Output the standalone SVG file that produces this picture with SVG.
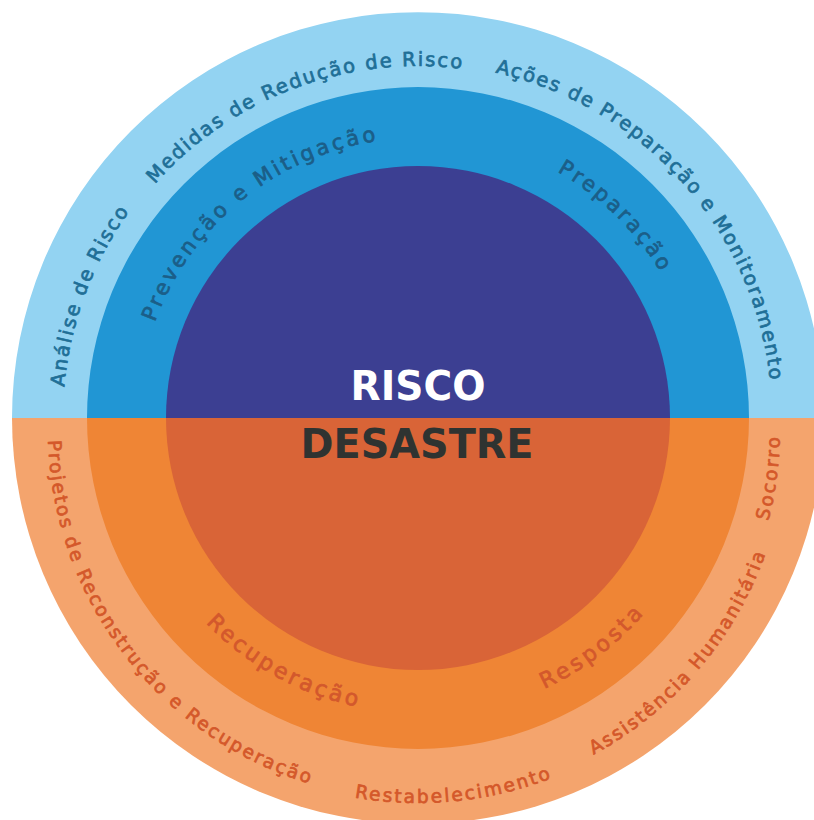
<svg xmlns="http://www.w3.org/2000/svg" xmlns:xlink="http://www.w3.org/1999/xlink" width="814" height="820" viewBox="0 0 814 820">
  <style>
    .lbl { font-family: "DejaVu Sans", "Liberation Sans", sans-serif; font-weight: 400; stroke-width: 0.7px; stroke-linejoin: round; }
    .risk-out { fill: #1F6F97; stroke: #1F6F97; font-size: 19.5px; }
    .risk-mid { fill: #1B5E88; stroke: #1B5E88; font-size: 21px; }
    .dis-out { fill: #D4582A; stroke: #D4582A; font-size: 18.5px; }
    .dis-mid { fill: #D3582C; stroke: #D3582C; font-size: 22px; }
    .title { font-family: "DejaVu Sans", "Liberation Sans", sans-serif; font-weight: 700; font-size: 41px; text-anchor: middle; }
  </style>
  <defs>
    <!-- text baselines, centre (418,418) above the split, (418,430) for the lower outer ring -->
    <path id="p-analise" d="M 64.35 387.06 A 355 355 0 0 1 129.35 211.35"/>
    <path id="p-medidas" d="M 154.77 184.30 A 352 352 0 0 1 462.12 68.78"/>
    <path id="p-acoes" d="M 495.22 72.52 A 354 354 0 0 1 770.06 381.00"/>
    <path id="p-prevencao" d="M 154.89 322.23 A 280 280 0 0 1 376.61 141.07"/>
    <path id="p-preparacao" d="M 557.35 171.69 A 283 283 0 0 1 660.58 272.24"/>
    <path id="p-recuperacao" d="M 205.80 622.92 A 295 295 0 0 0 356.67 706.55"/>
    <path id="p-resposta" d="M 544.36 688.99 A 299 299 0 0 0 643.66 614.16"/>
    <path id="p-projetos" d="M 48.14 440.33 A 370 370 0 0 0 309.82 783.83"/>
    <path id="p-restab" d="M 354.51 797.56 A 373 373 0 0 0 551.67 778.23"/>
    <path id="p-assist" d="M 593.50 754.59 A 369 369 0 0 0 765.62 553.78"/>
    <path id="p-socorro" d="M 768.31 521.25 A 362 362 0 0 0 779.95 436.32"/>
  </defs>

  <!-- upper half: risk -->
  <g id="risco-externo">
    <path d="M 12 418 A 406 406 0 0 1 824 418 Z" fill="#93D3F2"/>
  </g>
  <g id="risco-medio">
    <path d="M 87 418 A 331 331 0 0 1 749 418 Z" fill="#2196D4"/>
  </g>
  <g id="risco-nucleo">
    <path d="M 166 418 A 252 252 0 0 1 670 418 Z" fill="#3C3F92"/>
  </g>

  <!-- lower half: disaster -->
  <g id="desastre-externo">
    <path d="M 12 418 A 406 406 0 0 0 824 418 Z" fill="#F4A46D"/>
  </g>
  <g id="desastre-medio">
    <path d="M 87 418 A 331 331 0 0 0 749 418 Z" fill="#EF8535"/>
  </g>
  <g id="desastre-nucleo">
    <path d="M 166 418 A 252 252 0 0 0 670 418 Z" fill="#D96437"/>
  </g>

  <!-- ring labels -->
  <g id="analise-de-risco"><text class="lbl risk-out"><textPath xlink:href="#p-analise" href="#p-analise" textLength="189" lengthAdjust="spacing">Análise de Risco</textPath></text></g>
  <g id="medidas-reducao"><text class="lbl risk-out"><textPath xlink:href="#p-medidas" href="#p-medidas" textLength="341" lengthAdjust="spacing">Medidas de Redução de Risco</textPath></text></g>
  <g id="acoes-preparacao"><text class="lbl risk-out"><textPath xlink:href="#p-acoes" href="#p-acoes" textLength="440" lengthAdjust="spacing">Ações de Preparação e Monitoramento</textPath></text></g>
  <g id="prevencao-mitigacao"><text class="lbl risk-mid"><textPath xlink:href="#p-prevencao" href="#p-prevencao" textLength="300" lengthAdjust="spacing">Prevenção e Mitigação</textPath></text></g>
  <g id="preparacao"><text class="lbl risk-mid"><textPath xlink:href="#p-preparacao" href="#p-preparacao" textLength="145" lengthAdjust="spacing">Preparação</textPath></text></g>
  <g id="recuperacao"><text class="lbl dis-mid"><textPath xlink:href="#p-recuperacao" href="#p-recuperacao" textLength="175" lengthAdjust="spacing">Recuperação</textPath></text></g>
  <g id="resposta"><text class="lbl dis-mid"><textPath xlink:href="#p-resposta" href="#p-resposta" textLength="125" lengthAdjust="spacing">Resposta</textPath></text></g>
  <g id="projetos-reconstrucao"><text class="lbl dis-out"><textPath xlink:href="#p-projetos" href="#p-projetos" textLength="460" lengthAdjust="spacing">Projetos de Reconstrução e Recuperação</textPath></text></g>
  <g id="restabelecimento"><text class="lbl dis-out"><textPath xlink:href="#p-restab" href="#p-restab" textLength="200" lengthAdjust="spacing">Restabelecimento</textPath></text></g>
  <g id="assistencia-humanitaria"><text class="lbl dis-out"><textPath xlink:href="#p-assist" href="#p-assist" textLength="270" lengthAdjust="spacing">Assistência Humanitária</textPath></text></g>
  <g id="socorro"><text class="lbl dis-out"><textPath xlink:href="#p-socorro" href="#p-socorro" textLength="85" lengthAdjust="spacing">Socorro</textPath></text></g>

  <!-- centre titles -->
  <g id="titulo-risco"><text class="title" x="418" y="400" fill="#FFFFFF" textLength="135" lengthAdjust="spacingAndGlyphs">RISCO</text></g>
  <g id="titulo-desastre"><text class="title" x="417" y="458" fill="#2F3331" textLength="233" lengthAdjust="spacingAndGlyphs">DESASTRE</text></g>
</svg>
